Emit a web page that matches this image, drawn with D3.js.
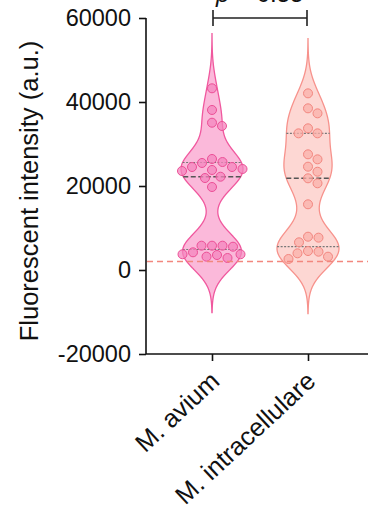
<!DOCTYPE html>
<meta charset="utf-8">
<script src="https://d3js.org/d3.v7.min.js"></script>
<style>
  body { margin: 0; background: #fff; }
  text { font-family: "Liberation Sans", Arial, sans-serif; }
</style>
<div id="chart"></div>
<script>
// Categories and values
var categories = ["M. avium", "M. intracellulare"];

var aviumValues = [43260, 38100, 35070, 34290,
  26430, 25710, 25480, 24520, 24520, 24050, 23810, 23570, 22210, 21900, 19760,
  5790, 5790, 5790, 5550, 4210, 3740, 3740, 3570, 3170, 2860];

var intraValues = [42060, 38490, 37300, 33730, 32540, 32540, 27540, 26350,
  24600, 23400, 21830, 20640, 15640, 7930, 7700, 6590,
  4520, 4360, 3970, 3170, 2620];

var yTicks = [-20000, 0, 20000, 40000, 60000];
var threshold = 2000;
var pLabel = "p = 0.55";

var groups = [
  {name: categories[0], values: aviumValues, fill: "#fbb9da", stroke: "#f0589e", dot: "#f486bd", dotStroke: "#ec4f96"},
  {name: categories[1], values: intraValues, fill: "#fdd7d3", stroke: "#f7928c", dot: "#fab0aa", dotStroke: "#f3867f"}
];

var width = 368, height = 515;

var svg = d3.select("#chart")
  .append("svg")
    .attr("width", width)
    .attr("height", height);

var y = d3.scaleLinear()
    .domain([-20000, 60000])
    .range([354, 18]);

var x = d3.scalePoint()
    .domain(categories)
    .range([146, 374])
    .padding(0.6875);

// Gaussian kernel density
function kde(bw, thresholds, data) {
  return thresholds.map(t => [t, d3.mean(data, d => Math.exp(-0.5 * ((t - d) / bw) ** 2))]);
}

// Prism style quartiles ((n+1)p)
function quart(values, p) {
  var s = values.slice().sort(d3.ascending);
  var pos = (s.length + 1) * p - 1;
  var lo = Math.floor(pos), hi = Math.ceil(pos);
  return s[lo] + (s[hi] - s[lo]) * (pos - lo);
}

var bw = 4200;
var maxHalf = 31;
var r = 4.5;

groups.forEach(function(g) {
  var cx = x(g.name);
  var lo = d3.min(g.values) - 3.1 * bw, hi = d3.max(g.values) + 3.1 * bw;
  var thresholds = d3.range(lo, hi, 150).concat([hi]);
  var dens = kde(bw, thresholds, g.values);
  var w = d3.scaleLinear()
      .domain([0, d3.max(dens, d => d[1])])
      .range([0, maxHalf]);

  var area = d3.area()
      .y(d => y(d[0]))
      .x0(d => cx - w(d[1]))
      .x1(d => cx + w(d[1]))
      .curve(d3.curveBasis);

  svg.append("path")
      .datum(dens)
      .attr("fill", g.fill)
      .attr("stroke", g.stroke)
      .attr("stroke-width", 1.3)
      .attr("d", area);

  // median and quartile lines across the violin
  [[0.25, false], [0.5, true], [0.75, false]].forEach(function(q) {
    var v = quart(g.values, q[0]);
    var half = w(kde(bw, [v], g.values)[0][1]);
    svg.append("line")
        .attr("x1", cx - half)
        .attr("x2", cx + half)
        .attr("y1", y(v))
        .attr("y2", y(v))
        .attr("stroke", q[1] ? "#555" : "#777")
        .attr("stroke-width", q[1] ? 1.6 : 1.1)
        .attr("stroke-dasharray", q[1] ? "5,2.5" : "2,1.5");
  });

  // simple beeswarm placement
  var placed = [];
  var minDist = 2 * r + 1.5;
  g.values.slice().sort(d3.descending).forEach(function(v) {
    var py = y(v);
    var off = 0;
    for (var k = 0; k < 200; k++) {
      var cand = (k % 2 ? 1 : -1) * Math.ceil(k / 2) * 0.5;
      var ok = placed.every(p => (p.x - cand) ** 2 + (p.y - py) ** 2 >= minDist * minDist);
      if (ok) { off = cand; break; }
    }
    placed.push({x: off, y: py});
  });

  svg.append("g")
    .selectAll("circle")
    .data(placed)
    .join("circle")
      .attr("cx", d => cx + d.x)
      .attr("cy", d => d.y)
      .attr("r", r)
      .attr("fill", g.dot)
      .attr("fill-opacity", 0.75)
      .attr("stroke", g.dotStroke)
      .attr("stroke-width", 1);
});

// threshold line
svg.append("line")
    .attr("x1", 147)
    .attr("x2", width)
    .attr("y1", y(threshold))
    .attr("y2", y(threshold))
    .attr("stroke", "#f2877e")
    .attr("stroke-width", 1.5)
    .attr("stroke-dasharray", "6,4");

// axes
var yAxis = svg.append("g")
    .attr("transform", "translate(146,0)")
    .call(d3.axisLeft(y).tickValues(yTicks).tickFormat(d => String(d)).tickSize(7).tickPadding(8));

var xAxis = svg.append("g")
    .attr("transform", "translate(0,354)")
    .call(d3.axisBottom(x).tickSize(7).tickFormat(""));

[yAxis, xAxis].forEach(function(a) {
  a.selectAll("path, line").attr("stroke", "#111").attr("stroke-width", 1.6);
  a.select(".domain").attr("d", a === yAxis ? "M0,18V354" : "M146,0H374");
});

yAxis.selectAll("text")
    .attr("font-size", 23.5)
    .attr("fill", "#111")
    .attr("font-family", "Liberation Sans, Arial, sans-serif");

// rotated category labels
svg.append("g")
  .selectAll("text")
  .data(categories)
  .join("text")
    .attr("transform", d => `translate(${x(d) + 9},${383}) rotate(-43)`)
    .attr("text-anchor", "end")
    .attr("font-size", 25.5)
    .attr("fill", "#111")
    .text(d => d);

// y axis title
svg.append("text")
    .attr("transform", "translate(38,191) rotate(-90)")
    .attr("text-anchor", "middle")
    .attr("font-size", 25.5)
    .attr("fill", "#111")
    .text("Fluorescent intensity (a.u.)");

// significance bracket
var bx1 = x(categories[0]) + 1, bx2 = x(categories[1]) - 1;
svg.append("path")
    .attr("d", `M${bx1},10V26M${bx1},18H${bx2}M${bx2},10V26`)
    .attr("fill", "none")
    .attr("stroke", "#222")
    .attr("stroke-width", 1.6);

svg.append("text")
    .attr("x", 216)
    .attr("y", 2)
    .attr("font-size", 24)
    .attr("fill", "#111")
    .call(t => t.append("tspan").attr("font-style", "italic").text(pLabel.split(" ")[0]))
    .call(t => t.append("tspan").text(pLabel.slice(1)));
</script>
